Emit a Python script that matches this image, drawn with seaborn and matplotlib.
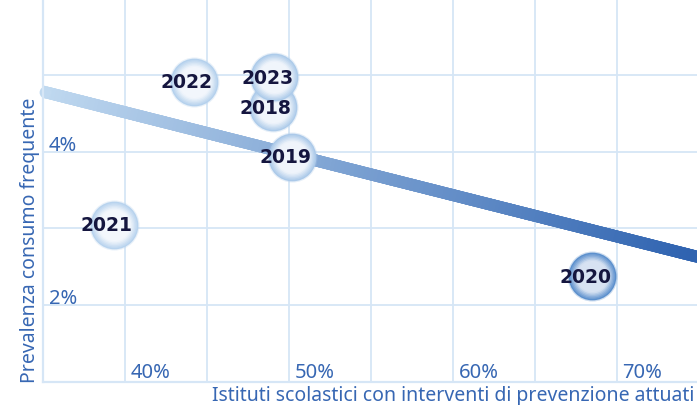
import numpy as np
import matplotlib
matplotlib.use("Agg")
import matplotlib.pyplot as plt
import matplotlib.colors as mcolors
from matplotlib.collections import LineCollection
from matplotlib.transforms import blended_transform_factory, offset_copy
import seaborn as sns
import pandas as pd

# data
years = ["2018", "2019", "2020", "2021", "2022", "2023"]
interventi = [49.0, 50.2, 68.5, 39.3, 44.2, 49.1]   # % istituti con interventi
prevalenza = [4.58, 3.93, 2.38, 3.05, 4.91, 4.97]   # % consumo frequente

x_ticks = [40, 50, 60, 70]
x_tick_labels = ["40%", "50%", "60%", "70%"]
y_ticks = [2, 4]
y_tick_labels = ["2%", "4%"]

df = pd.DataFrame({"anno": years, "x": interventi, "y": prevalenza})

sns.set_style("white")
plt.rcParams["font.family"] = ["Noto Sans", "DejaVu Sans"]

blue = "#3767b3"
grid_col = "#d6e6f6"
lab_font = 14
tick_font = 14.5

fig = plt.figure(figsize=(6.97, 4.06), dpi=100)
ax = fig.add_axes([43 / 697, 23 / 406, 656 / 697, 384 / 406])
ax.set_xlim(35, 75)
ax.set_ylim(1, 6)

# grid
ax.set_xticks(np.arange(35, 76, 5))
ax.set_yticks(np.arange(1, 7, 1))
ax.grid(True, color=grid_col, lw=1.3)
ax.tick_params(length=0, labelbottom=False, labelleft=False)
for side in ["top", "right"]:
    ax.spines[side].set_visible(False)
for side in ["left", "bottom"]:
    ax.spines[side].set_color(grid_col)
    ax.spines[side].set_linewidth(1.6)

# regression line with gradient
slope, icpt = np.polyfit(df["x"], df["y"], 1)
xs = np.linspace(35.1, 75, 200)
ys = slope * xs + icpt
pts = np.column_stack([xs, ys]).reshape(-1, 1, 2)
segs = np.concatenate([pts[:-1], pts[1:]], axis=1)
cmap_line = mcolors.LinearSegmentedColormap.from_list("trend", ["#c0d9f0", "#2f63b0"])
lc = LineCollection(segs, cmap=cmap_line, linewidths=8.5, capstyle="projecting",
                    zorder=2)
lc.set_array(np.linspace(0, 1, len(segs)))
ax.add_collection(lc)
ax.scatter([xs[0]], [ys[0]], s=72, color="#c0d9f0", zorder=2, linewidths=0,
           clip_on=False)

# bubbles with radial shading
t = np.clip((df["x"] - 39) / (68.5 - 39), 0, 1) ** 2
rim_a, rim_b = np.array(mcolors.to_rgb("#b8d3ee")), np.array(mcolors.to_rgb("#5c90cd"))
cen_a, cen_b = np.array(mcolors.to_rgb("#f3f7fc")), np.array(mcolors.to_rgb("#d7e2f2"))
n_layers = 14
for i in range(len(df)):
    row = df.iloc[i]
    rim = rim_a + (rim_b - rim_a) * t[i]
    cen = cen_a + (cen_b - cen_a) * t[i]
    ax.scatter(row["x"], row["y"], s=1300, color=rim, alpha=0.3, linewidths=0, zorder=3 + i)
    for k in range(n_layers):
        f = k / (n_layers - 1)
        size = 1180 * (1 - 0.75 * f) ** 2
        w = min(1, f * 2.4)
        col = rim + (cen - rim) * w
        ax.scatter(row["x"], row["y"], s=size, color=col, linewidths=0, zorder=3 + i)

for _, row in df.iterrows():
    ax.annotate(row["anno"], (row["x"], row["y"]), xytext=(-5, 0),
                textcoords="offset points", ha="center", va="center",
                fontsize=13.5, fontweight="bold", family=["DejaVu Sans"],
                color="#15163f", zorder=20)

# tick labels inside the plot
tx = blended_transform_factory(ax.transData, ax.transAxes)
for v, lab in zip(x_ticks, x_tick_labels):
    ax.text(v, 0, lab, transform=offset_copy(tx, fig=fig, x=4, y=3.5, units="points"),
            ha="left", va="baseline", fontsize=tick_font, color=blue)
ty = blended_transform_factory(ax.transAxes, ax.transData)
for v, lab in zip(y_ticks, y_tick_labels):
    ax.text(0, v, lab, transform=offset_copy(ty, fig=fig, x=4, y=1.5, units="points"),
            ha="left", va="baseline", fontsize=tick_font, color=blue)

ax.set_ylabel("Prevalenza consumo frequente", fontsize=lab_font, color=blue,
              loc="bottom")
ax.yaxis.set_label_coords(-0.004, 0)
fig.text(212 / 697, 10 / 406, "Istituti scolastici con interventi di prevenzione attuati",
         ha="left", va="center", fontsize=lab_font, color=blue)

fig.savefig("out.png", dpi=100)
